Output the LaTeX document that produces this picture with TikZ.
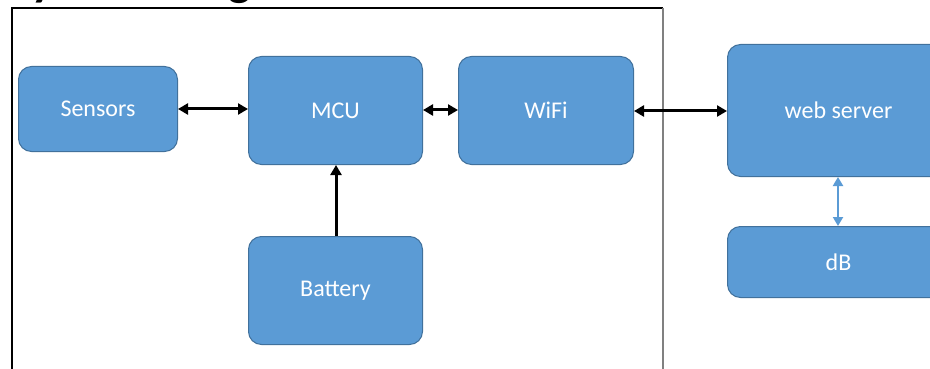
\documentclass[tikz,border=0pt]{standalone}
\usepackage{fontspec}
\setmainfont{Carlito}
\usetikzlibrary{arrows.meta}
\definecolor{boxblue}{HTML}{5B9BD5}
\definecolor{boxedge}{HTML}{41719C}
\definecolor{framegray}{HTML}{808080}
\tikzset{
  blk/.style={draw=boxedge, line width=1pt, fill=boxblue, rounded corners=13pt,
    text=white, font=\fontsize{24}{28}\selectfont, inner sep=0pt, anchor=north west},
  link/.style={line width=3pt, black, {Triangle[length=10pt,width=11pt]}-{Triangle[length=10pt,width=11pt]}},
  uplink/.style={line width=3pt, black, -{Triangle[length=10pt,width=11pt]}},
  bluelink/.style={line width=2pt, boxblue, {Triangle[length=9pt,width=10pt]}-{Triangle[length=9pt,width=10pt]}}
}
\begin{document}
\begin{tikzpicture}[x=1pt,y=-1pt]
\clip (0,0) rectangle (930,369);
\fill[white] (0,0) rectangle (930,369);
% title (cut off at top)
\node[anchor=base west, inner sep=0pt, font=\fontsize{48}{52}\selectfont\bfseries] (title) at (9,-4) {System Diagram};
% frame
\coordinate (fTL) at (12,8);
\coordinate (fTR) at (663,8);
\coordinate (fBL) at (12,375);
\coordinate (fBR) at (663,375);
\draw[line width=1.5pt, black] (fBL) -- (fTL) -- (fTR);
\draw[line width=1.5pt, framegray] (fTR) -- (fBR);
% boxes
\node[blk, minimum width=159pt, minimum height=85pt] (sens) at (18,66) {Sensors};
\node[blk, minimum width=174pt, minimum height=108pt] (mcu) at (248,56) {MCU};
\node[blk, minimum width=175pt, minimum height=108pt] (wifi) at (458,56) {WiFi};
\node[blk, minimum width=222pt, minimum height=132pt] (web) at (727,44) {web server};
\node[blk, minimum width=222pt, minimum height=71pt] (db) at (727,226) {dB};
\node[blk, minimum width=174pt, minimum height=108pt] (bat) at (248,236) {Battery};
% connectors
\draw[link] (sens.east |- 0,109) -- (mcu.west |- 0,109);
\draw[link] (mcu.east |- 0,110) -- (wifi.west |- 0,110);
\draw[link] (wifi.east |- 0,111) -- (web.west |- 0,111);
\draw[uplink] (bat.north -| 336,0) -- (mcu.south -| 336,0);
\draw[bluelink] (web.south -| 838,0) -- (db.north -| 838,0);
\end{tikzpicture}
\end{document}
